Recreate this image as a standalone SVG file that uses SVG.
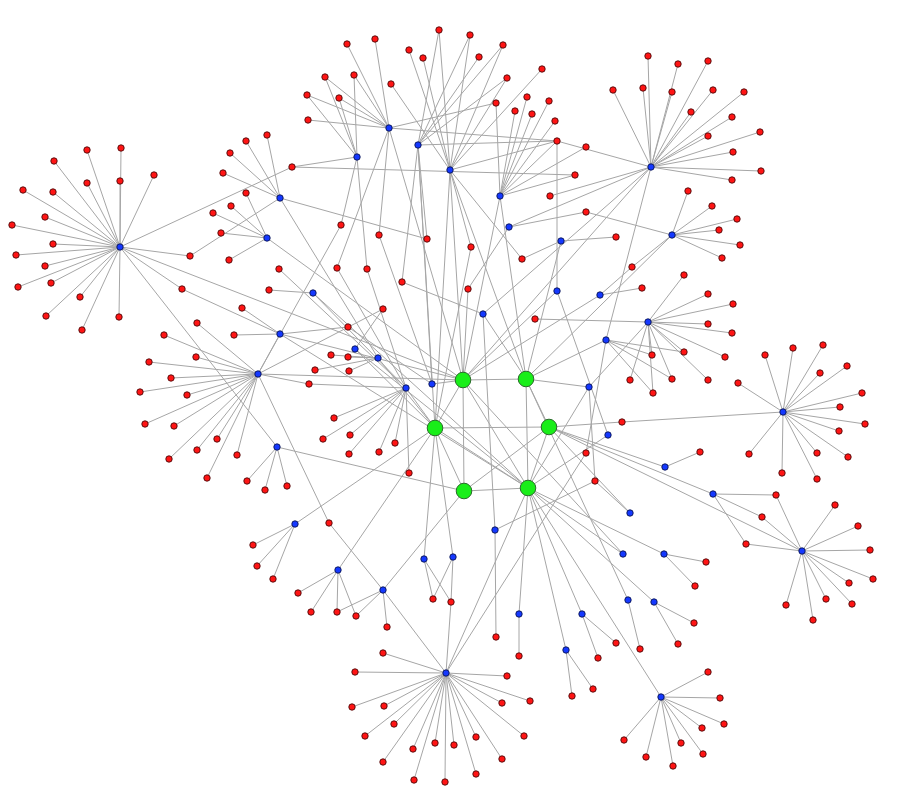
<svg xmlns="http://www.w3.org/2000/svg" width="900" height="810" viewBox="0 0 900 810">
<style>
.e line{stroke:#a6a6a6;stroke-width:1}
.r{fill:#ff1414;stroke:#4a0a0a;stroke-width:0.9}
.b{fill:#1438ff;stroke:#0a1450;stroke-width:0.9}
.g{fill:#19ee19;stroke:#2b6b2b;stroke-width:1}
</style>
<rect width="900" height="810" fill="#fff"/>
<g id="connectors" class="e">
<line x1="120" y1="247" x2="23" y2="190"/><line x1="120" y1="247" x2="54" y2="161"/><line x1="120" y1="247" x2="87" y2="150"/><line x1="120" y1="247" x2="121" y2="148"/><line x1="120" y1="247" x2="53" y2="192"/><line x1="120" y1="247" x2="87" y2="183"/><line x1="120" y1="247" x2="120" y2="181"/><line x1="120" y1="247" x2="154" y2="175"/><line x1="120" y1="247" x2="12" y2="225"/><line x1="120" y1="247" x2="45" y2="217"/><line x1="120" y1="247" x2="53" y2="244"/><line x1="120" y1="247" x2="16" y2="255"/><line x1="120" y1="247" x2="45" y2="266"/><line x1="120" y1="247" x2="18" y2="287"/><line x1="120" y1="247" x2="51" y2="283"/><line x1="120" y1="247" x2="80" y2="297"/><line x1="120" y1="247" x2="46" y2="316"/><line x1="120" y1="247" x2="82" y2="330"/><line x1="120" y1="247" x2="119" y2="317"/><line x1="120" y1="247" x2="190" y2="256"/><line x1="120" y1="247" x2="182" y2="289"/><line x1="120" y1="247" x2="292" y2="167"/><line x1="120" y1="247" x2="463" y2="380"/><line x1="120" y1="247" x2="277" y2="447"/>
<line x1="280" y1="198" x2="230" y2="153"/><line x1="280" y1="198" x2="246" y2="141"/><line x1="280" y1="198" x2="267" y2="135"/><line x1="280" y1="198" x2="223" y2="173"/><line x1="280" y1="198" x2="190" y2="256"/><line x1="280" y1="198" x2="378" y2="358"/><line x1="280" y1="198" x2="427" y2="239"/>
<line x1="267" y1="238" x2="231" y2="206"/><line x1="267" y1="238" x2="213" y2="213"/><line x1="267" y1="238" x2="221" y2="233"/><line x1="267" y1="238" x2="229" y2="260"/><line x1="267" y1="238" x2="246" y2="193"/><line x1="267" y1="238" x2="463" y2="380"/>
<line x1="279" y1="269" x2="406" y2="388"/>
<line x1="313" y1="293" x2="269" y2="290"/><line x1="313" y1="293" x2="406" y2="388"/><line x1="313" y1="293" x2="528" y2="488"/>
<line x1="280" y1="334" x2="242" y2="308"/><line x1="280" y1="334" x2="234" y2="335"/><line x1="280" y1="334" x2="182" y2="289"/><line x1="280" y1="334" x2="258" y2="374"/><line x1="280" y1="334" x2="348" y2="327"/><line x1="280" y1="334" x2="463" y2="380"/><line x1="280" y1="334" x2="528" y2="488"/>
<line x1="258" y1="374" x2="196" y2="357"/><line x1="258" y1="374" x2="197" y2="323"/><line x1="258" y1="374" x2="164" y2="335"/><line x1="258" y1="374" x2="149" y2="362"/><line x1="258" y1="374" x2="171" y2="378"/><line x1="258" y1="374" x2="140" y2="392"/><line x1="258" y1="374" x2="187" y2="395"/><line x1="258" y1="374" x2="145" y2="424"/><line x1="258" y1="374" x2="174" y2="426"/><line x1="258" y1="374" x2="217" y2="439"/><line x1="258" y1="374" x2="197" y2="450"/><line x1="258" y1="374" x2="169" y2="459"/><line x1="258" y1="374" x2="237" y2="455"/><line x1="258" y1="374" x2="207" y2="478"/><line x1="258" y1="374" x2="329" y2="523"/><line x1="258" y1="374" x2="463" y2="380"/><line x1="258" y1="374" x2="341" y2="225"/><line x1="258" y1="374" x2="383" y2="309"/><line x1="258" y1="374" x2="309" y2="384"/>
<line x1="277" y1="447" x2="247" y2="481"/><line x1="277" y1="447" x2="265" y2="490"/><line x1="277" y1="447" x2="287" y2="486"/><line x1="277" y1="447" x2="464" y2="491"/>
<line x1="295" y1="524" x2="253" y2="545"/><line x1="295" y1="524" x2="257" y2="566"/><line x1="295" y1="524" x2="273" y2="579"/><line x1="295" y1="524" x2="435" y2="428"/>
<line x1="355" y1="349" x2="383" y2="309"/><line x1="355" y1="349" x2="435" y2="428"/><line x1="355" y1="349" x2="528" y2="488"/>
<line x1="378" y1="358" x2="315" y2="370"/><line x1="378" y1="358" x2="331" y2="355"/><line x1="378" y1="358" x2="348" y2="357"/><line x1="378" y1="358" x2="349" y2="371"/><line x1="378" y1="358" x2="435" y2="428"/>
<line x1="406" y1="388" x2="334" y2="418"/><line x1="406" y1="388" x2="323" y2="439"/><line x1="406" y1="388" x2="350" y2="435"/><line x1="406" y1="388" x2="349" y2="454"/><line x1="406" y1="388" x2="379" y2="452"/><line x1="406" y1="388" x2="395" y2="443"/><line x1="406" y1="388" x2="409" y2="473"/><line x1="406" y1="388" x2="309" y2="384"/><line x1="406" y1="388" x2="337" y2="268"/><line x1="406" y1="388" x2="367" y2="269"/><line x1="406" y1="388" x2="435" y2="428"/>
<line x1="432" y1="384" x2="348" y2="327"/><line x1="432" y1="384" x2="463" y2="380"/><line x1="432" y1="384" x2="379" y2="235"/>
<line x1="483" y1="314" x2="402" y2="282"/><line x1="483" y1="314" x2="526" y2="379"/><line x1="483" y1="314" x2="495" y2="530"/>
<line x1="509" y1="227" x2="468" y2="289"/><line x1="509" y1="227" x2="586" y2="212"/><line x1="468" y1="289" x2="463" y2="380"/>
<line x1="561" y1="241" x2="616" y2="237"/><line x1="561" y1="241" x2="522" y2="259"/><line x1="561" y1="241" x2="526" y2="379"/>
<line x1="557" y1="291" x2="557" y2="141"/><line x1="557" y1="291" x2="463" y2="380"/>
<line x1="600" y1="295" x2="632" y2="267"/><line x1="600" y1="295" x2="642" y2="288"/><line x1="600" y1="295" x2="463" y2="380"/>
<line x1="589" y1="387" x2="526" y2="379"/><line x1="589" y1="387" x2="648" y2="322"/><line x1="589" y1="387" x2="595" y2="481"/><line x1="589" y1="387" x2="528" y2="488"/>
<line x1="606" y1="340" x2="652" y2="355"/><line x1="606" y1="340" x2="672" y2="379"/><line x1="606" y1="340" x2="653" y2="393"/><line x1="606" y1="340" x2="684" y2="352"/><line x1="606" y1="340" x2="526" y2="379"/><line x1="606" y1="340" x2="586" y2="453"/>
<line x1="648" y1="322" x2="684" y2="275"/><line x1="648" y1="322" x2="708" y2="294"/><line x1="648" y1="322" x2="733" y2="304"/><line x1="648" y1="322" x2="708" y2="324"/><line x1="648" y1="322" x2="732" y2="333"/><line x1="648" y1="322" x2="725" y2="357"/><line x1="648" y1="322" x2="684" y2="352"/><line x1="648" y1="322" x2="652" y2="355"/><line x1="648" y1="322" x2="672" y2="379"/><line x1="648" y1="322" x2="630" y2="380"/><line x1="648" y1="322" x2="708" y2="380"/><line x1="648" y1="322" x2="535" y2="319"/><line x1="648" y1="322" x2="653" y2="393"/>
<line x1="672" y1="235" x2="712" y2="206"/><line x1="672" y1="235" x2="737" y2="219"/><line x1="672" y1="235" x2="719" y2="230"/><line x1="672" y1="235" x2="740" y2="245"/><line x1="672" y1="235" x2="722" y2="258"/><line x1="672" y1="235" x2="688" y2="191"/><line x1="672" y1="235" x2="632" y2="267"/><line x1="672" y1="235" x2="526" y2="379"/><line x1="672" y1="235" x2="586" y2="212"/>
<line x1="651" y1="167" x2="648" y2="56"/><line x1="651" y1="167" x2="678" y2="64"/><line x1="651" y1="167" x2="708" y2="61"/><line x1="651" y1="167" x2="613" y2="90"/><line x1="651" y1="167" x2="643" y2="88"/><line x1="651" y1="167" x2="672" y2="92"/><line x1="651" y1="167" x2="713" y2="90"/><line x1="651" y1="167" x2="744" y2="92"/><line x1="651" y1="167" x2="691" y2="112"/><line x1="651" y1="167" x2="732" y2="117"/><line x1="651" y1="167" x2="708" y2="136"/><line x1="651" y1="167" x2="760" y2="132"/><line x1="651" y1="167" x2="733" y2="152"/><line x1="651" y1="167" x2="761" y2="171"/><line x1="651" y1="167" x2="732" y2="180"/><line x1="651" y1="167" x2="557" y2="141"/><line x1="651" y1="167" x2="550" y2="196"/><line x1="651" y1="167" x2="606" y2="340"/><line x1="651" y1="167" x2="463" y2="380"/><line x1="651" y1="167" x2="483" y2="314"/><line x1="651" y1="167" x2="509" y2="227"/>
<line x1="500" y1="196" x2="496" y2="103"/><line x1="500" y1="196" x2="527" y2="97"/><line x1="500" y1="196" x2="549" y2="101"/><line x1="500" y1="196" x2="515" y2="111"/><line x1="500" y1="196" x2="532" y2="114"/><line x1="500" y1="196" x2="555" y2="121"/><line x1="500" y1="196" x2="557" y2="141"/><line x1="500" y1="196" x2="586" y2="147"/><line x1="500" y1="196" x2="575" y2="175"/><line x1="500" y1="196" x2="463" y2="380"/><line x1="500" y1="196" x2="526" y2="379"/>
<line x1="450" y1="170" x2="409" y2="50"/><line x1="450" y1="170" x2="423" y2="58"/><line x1="450" y1="170" x2="439" y2="30"/><line x1="450" y1="170" x2="470" y2="35"/><line x1="450" y1="170" x2="542" y2="69"/><line x1="450" y1="170" x2="507" y2="78"/><line x1="450" y1="170" x2="503" y2="45"/><line x1="450" y1="170" x2="557" y2="141"/><line x1="450" y1="170" x2="471" y2="247"/><line x1="450" y1="170" x2="391" y2="84"/><line x1="450" y1="170" x2="463" y2="380"/><line x1="450" y1="170" x2="526" y2="379"/><line x1="450" y1="170" x2="435" y2="428"/><line x1="450" y1="170" x2="522" y2="259"/>
<line x1="471" y1="247" x2="435" y2="428"/>
<line x1="418" y1="145" x2="439" y2="30"/><line x1="418" y1="145" x2="470" y2="35"/><line x1="418" y1="145" x2="503" y2="45"/><line x1="418" y1="145" x2="479" y2="57"/><line x1="418" y1="145" x2="507" y2="78"/><line x1="418" y1="145" x2="557" y2="141"/><line x1="418" y1="145" x2="427" y2="239"/><line x1="418" y1="145" x2="402" y2="282"/><line x1="418" y1="145" x2="435" y2="428"/><line x1="418" y1="145" x2="432" y2="384"/>
<line x1="389" y1="128" x2="347" y2="44"/><line x1="389" y1="128" x2="375" y2="39"/><line x1="389" y1="128" x2="325" y2="77"/><line x1="389" y1="128" x2="354" y2="75"/><line x1="389" y1="128" x2="307" y2="95"/><line x1="389" y1="128" x2="339" y2="98"/><line x1="389" y1="128" x2="308" y2="120"/><line x1="389" y1="128" x2="496" y2="103"/><line x1="389" y1="128" x2="557" y2="141"/><line x1="389" y1="128" x2="379" y2="235"/><line x1="389" y1="128" x2="463" y2="380"/><line x1="389" y1="128" x2="337" y2="268"/>
<line x1="357" y1="157" x2="325" y2="77"/><line x1="357" y1="157" x2="354" y2="75"/><line x1="357" y1="157" x2="307" y2="95"/><line x1="357" y1="157" x2="339" y2="98"/><line x1="357" y1="157" x2="292" y2="167"/><line x1="357" y1="157" x2="341" y2="225"/><line x1="357" y1="157" x2="367" y2="269"/>
<line x1="292" y1="167" x2="575" y2="175"/>
<line x1="783" y1="412" x2="765" y2="355"/><line x1="783" y1="412" x2="793" y2="348"/><line x1="783" y1="412" x2="823" y2="345"/><line x1="783" y1="412" x2="820" y2="373"/><line x1="783" y1="412" x2="847" y2="366"/><line x1="783" y1="412" x2="862" y2="393"/><line x1="783" y1="412" x2="738" y2="383"/><line x1="783" y1="412" x2="840" y2="407"/><line x1="783" y1="412" x2="865" y2="424"/><line x1="783" y1="412" x2="839" y2="431"/><line x1="783" y1="412" x2="749" y2="454"/><line x1="783" y1="412" x2="817" y2="453"/><line x1="783" y1="412" x2="848" y2="457"/><line x1="783" y1="412" x2="782" y2="473"/><line x1="783" y1="412" x2="817" y2="479"/><line x1="783" y1="412" x2="622" y2="422"/>
<line x1="549" y1="427" x2="622" y2="422"/><line x1="549" y1="427" x2="665" y2="467"/><line x1="549" y1="427" x2="713" y2="494"/><line x1="549" y1="427" x2="802" y2="551"/><line x1="549" y1="427" x2="630" y2="513"/>
<line x1="665" y1="467" x2="700" y2="452"/>
<line x1="713" y1="494" x2="776" y2="495"/><line x1="713" y1="494" x2="762" y2="517"/><line x1="713" y1="494" x2="746" y2="544"/>
<line x1="802" y1="551" x2="776" y2="495"/><line x1="802" y1="551" x2="762" y2="517"/><line x1="802" y1="551" x2="746" y2="544"/><line x1="802" y1="551" x2="835" y2="505"/><line x1="802" y1="551" x2="858" y2="526"/><line x1="802" y1="551" x2="870" y2="550"/><line x1="802" y1="551" x2="873" y2="579"/><line x1="802" y1="551" x2="849" y2="583"/><line x1="802" y1="551" x2="826" y2="599"/><line x1="802" y1="551" x2="852" y2="604"/><line x1="802" y1="551" x2="786" y2="605"/><line x1="802" y1="551" x2="813" y2="620"/>
<line x1="608" y1="435" x2="528" y2="488"/><line x1="608" y1="435" x2="557" y2="291"/>
<line x1="630" y1="513" x2="595" y2="481"/>
<line x1="623" y1="554" x2="463" y2="380"/><line x1="623" y1="554" x2="528" y2="488"/>
<line x1="664" y1="554" x2="706" y2="562"/><line x1="664" y1="554" x2="695" y2="586"/><line x1="664" y1="554" x2="528" y2="488"/>
<line x1="628" y1="600" x2="640" y2="649"/><line x1="628" y1="600" x2="526" y2="379"/>
<line x1="654" y1="602" x2="678" y2="644"/><line x1="654" y1="602" x2="694" y2="623"/><line x1="654" y1="602" x2="528" y2="488"/>
<line x1="661" y1="697" x2="708" y2="672"/><line x1="661" y1="697" x2="720" y2="698"/><line x1="661" y1="697" x2="724" y2="724"/><line x1="661" y1="697" x2="702" y2="728"/><line x1="661" y1="697" x2="681" y2="743"/><line x1="661" y1="697" x2="703" y2="754"/><line x1="661" y1="697" x2="624" y2="740"/><line x1="661" y1="697" x2="646" y2="757"/><line x1="661" y1="697" x2="673" y2="766"/><line x1="661" y1="697" x2="528" y2="488"/>
<line x1="446" y1="673" x2="383" y2="653"/><line x1="446" y1="673" x2="355" y2="672"/><line x1="446" y1="673" x2="507" y2="676"/><line x1="446" y1="673" x2="352" y2="707"/><line x1="446" y1="673" x2="384" y2="706"/><line x1="446" y1="673" x2="530" y2="701"/><line x1="446" y1="673" x2="502" y2="703"/><line x1="446" y1="673" x2="394" y2="724"/><line x1="446" y1="673" x2="365" y2="736"/><line x1="446" y1="673" x2="524" y2="736"/><line x1="446" y1="673" x2="476" y2="737"/><line x1="446" y1="673" x2="435" y2="743"/><line x1="446" y1="673" x2="454" y2="745"/><line x1="446" y1="673" x2="413" y2="749"/><line x1="446" y1="673" x2="383" y2="762"/><line x1="446" y1="673" x2="502" y2="759"/><line x1="446" y1="673" x2="476" y2="774"/><line x1="446" y1="673" x2="414" y2="780"/><line x1="446" y1="673" x2="445" y2="782"/><line x1="446" y1="673" x2="528" y2="488"/><line x1="446" y1="673" x2="383" y2="590"/><line x1="446" y1="673" x2="586" y2="453"/><line x1="446" y1="673" x2="451" y2="602"/>
<line x1="338" y1="570" x2="298" y2="593"/><line x1="338" y1="570" x2="311" y2="612"/><line x1="338" y1="570" x2="337" y2="612"/><line x1="338" y1="570" x2="356" y2="616"/><line x1="338" y1="570" x2="435" y2="428"/>
<line x1="383" y1="590" x2="337" y2="612"/><line x1="383" y1="590" x2="356" y2="616"/><line x1="383" y1="590" x2="387" y2="627"/><line x1="383" y1="590" x2="329" y2="523"/><line x1="383" y1="590" x2="464" y2="491"/>
<line x1="424" y1="559" x2="433" y2="599"/><line x1="424" y1="559" x2="451" y2="602"/><line x1="424" y1="559" x2="435" y2="428"/>
<line x1="453" y1="557" x2="433" y2="599"/><line x1="453" y1="557" x2="451" y2="602"/><line x1="453" y1="557" x2="435" y2="428"/>
<line x1="495" y1="530" x2="595" y2="481"/><line x1="495" y1="530" x2="496" y2="637"/>
<line x1="519" y1="614" x2="519" y2="656"/><line x1="519" y1="614" x2="528" y2="488"/>
<line x1="582" y1="614" x2="616" y2="643"/><line x1="582" y1="614" x2="598" y2="658"/><line x1="582" y1="614" x2="528" y2="488"/>
<line x1="566" y1="650" x2="572" y2="696"/><line x1="566" y1="650" x2="593" y2="689"/><line x1="566" y1="650" x2="528" y2="488"/>
<line x1="463" y1="380" x2="526" y2="379"/><line x1="463" y1="380" x2="435" y2="428"/><line x1="463" y1="380" x2="464" y2="491"/><line x1="463" y1="380" x2="528" y2="488"/><line x1="526" y1="379" x2="549" y2="427"/><line x1="526" y1="379" x2="528" y2="488"/><line x1="435" y1="428" x2="549" y2="427"/><line x1="435" y1="428" x2="464" y2="491"/><line x1="435" y1="428" x2="528" y2="488"/><line x1="549" y1="427" x2="464" y2="491"/><line x1="549" y1="427" x2="528" y2="488"/><line x1="464" y1="491" x2="528" y2="488"/>
</g>
<g id="nodes">
<g id="n_r1"><circle class="r" cx="23" cy="190" r="3.2"/></g>
<g id="n_r2"><circle class="r" cx="54" cy="161" r="3.2"/></g>
<g id="n_r3"><circle class="r" cx="87" cy="150" r="3.2"/></g>
<g id="n_r4"><circle class="r" cx="121" cy="148" r="3.2"/></g>
<g id="n_r5"><circle class="r" cx="53" cy="192" r="3.2"/></g>
<g id="n_r6"><circle class="r" cx="87" cy="183" r="3.2"/></g>
<g id="n_r7"><circle class="r" cx="120" cy="181" r="3.2"/></g>
<g id="n_r8"><circle class="r" cx="154" cy="175" r="3.2"/></g>
<g id="n_r9"><circle class="r" cx="12" cy="225" r="3.2"/></g>
<g id="n_r10"><circle class="r" cx="45" cy="217" r="3.2"/></g>
<g id="n_r11"><circle class="r" cx="53" cy="244" r="3.2"/></g>
<g id="n_r12"><circle class="r" cx="16" cy="255" r="3.2"/></g>
<g id="n_r13"><circle class="r" cx="45" cy="266" r="3.2"/></g>
<g id="n_r14"><circle class="r" cx="18" cy="287" r="3.2"/></g>
<g id="n_r15"><circle class="r" cx="51" cy="283" r="3.2"/></g>
<g id="n_r16"><circle class="r" cx="80" cy="297" r="3.2"/></g>
<g id="n_r17"><circle class="r" cx="46" cy="316" r="3.2"/></g>
<g id="n_r18"><circle class="r" cx="82" cy="330" r="3.2"/></g>
<g id="n_r19"><circle class="r" cx="119" cy="317" r="3.2"/></g>
<g id="n_r20"><circle class="r" cx="190" cy="256" r="3.2"/></g>
<g id="n_r21"><circle class="r" cx="182" cy="289" r="3.2"/></g>
<g id="n_r22"><circle class="r" cx="292" cy="167" r="3.2"/></g>
<g id="n_r23"><circle class="r" cx="230" cy="153" r="3.2"/></g>
<g id="n_r24"><circle class="r" cx="246" cy="141" r="3.2"/></g>
<g id="n_r25"><circle class="r" cx="267" cy="135" r="3.2"/></g>
<g id="n_r26"><circle class="r" cx="223" cy="173" r="3.2"/></g>
<g id="n_r27"><circle class="r" cx="246" cy="193" r="3.2"/></g>
<g id="n_r28"><circle class="r" cx="231" cy="206" r="3.2"/></g>
<g id="n_r29"><circle class="r" cx="213" cy="213" r="3.2"/></g>
<g id="n_r30"><circle class="r" cx="221" cy="233" r="3.2"/></g>
<g id="n_r31"><circle class="r" cx="229" cy="260" r="3.2"/></g>
<g id="n_r32"><circle class="r" cx="279" cy="269" r="3.2"/></g>
<g id="n_r33"><circle class="r" cx="269" cy="290" r="3.2"/></g>
<g id="n_r34"><circle class="r" cx="242" cy="308" r="3.2"/></g>
<g id="n_r35"><circle class="r" cx="234" cy="335" r="3.2"/></g>
<g id="n_r36"><circle class="r" cx="196" cy="357" r="3.2"/></g>
<g id="n_r37"><circle class="r" cx="197" cy="323" r="3.2"/></g>
<g id="n_r38"><circle class="r" cx="164" cy="335" r="3.2"/></g>
<g id="n_r39"><circle class="r" cx="149" cy="362" r="3.2"/></g>
<g id="n_r40"><circle class="r" cx="171" cy="378" r="3.2"/></g>
<g id="n_r41"><circle class="r" cx="140" cy="392" r="3.2"/></g>
<g id="n_r42"><circle class="r" cx="187" cy="395" r="3.2"/></g>
<g id="n_r43"><circle class="r" cx="145" cy="424" r="3.2"/></g>
<g id="n_r44"><circle class="r" cx="174" cy="426" r="3.2"/></g>
<g id="n_r45"><circle class="r" cx="217" cy="439" r="3.2"/></g>
<g id="n_r46"><circle class="r" cx="197" cy="450" r="3.2"/></g>
<g id="n_r47"><circle class="r" cx="169" cy="459" r="3.2"/></g>
<g id="n_r48"><circle class="r" cx="237" cy="455" r="3.2"/></g>
<g id="n_r49"><circle class="r" cx="207" cy="478" r="3.2"/></g>
<g id="n_r50"><circle class="r" cx="247" cy="481" r="3.2"/></g>
<g id="n_r51"><circle class="r" cx="265" cy="490" r="3.2"/></g>
<g id="n_r52"><circle class="r" cx="287" cy="486" r="3.2"/></g>
<g id="n_r53"><circle class="r" cx="253" cy="545" r="3.2"/></g>
<g id="n_r54"><circle class="r" cx="257" cy="566" r="3.2"/></g>
<g id="n_r55"><circle class="r" cx="273" cy="579" r="3.2"/></g>
<g id="n_r56"><circle class="r" cx="298" cy="593" r="3.2"/></g>
<g id="n_r57"><circle class="r" cx="311" cy="612" r="3.2"/></g>
<g id="n_r58"><circle class="r" cx="337" cy="612" r="3.2"/></g>
<g id="n_r59"><circle class="r" cx="356" cy="616" r="3.2"/></g>
<g id="n_r60"><circle class="r" cx="387" cy="627" r="3.2"/></g>
<g id="n_r61"><circle class="r" cx="329" cy="523" r="3.2"/></g>
<g id="n_r62"><circle class="r" cx="347" cy="44" r="3.2"/></g>
<g id="n_r63"><circle class="r" cx="375" cy="39" r="3.2"/></g>
<g id="n_r64"><circle class="r" cx="439" cy="30" r="3.2"/></g>
<g id="n_r65"><circle class="r" cx="470" cy="35" r="3.2"/></g>
<g id="n_r66"><circle class="r" cx="503" cy="45" r="3.2"/></g>
<g id="n_r67"><circle class="r" cx="409" cy="50" r="3.2"/></g>
<g id="n_r68"><circle class="r" cx="423" cy="58" r="3.2"/></g>
<g id="n_r69"><circle class="r" cx="479" cy="57" r="3.2"/></g>
<g id="n_r70"><circle class="r" cx="542" cy="69" r="3.2"/></g>
<g id="n_r71"><circle class="r" cx="325" cy="77" r="3.2"/></g>
<g id="n_r72"><circle class="r" cx="354" cy="75" r="3.2"/></g>
<g id="n_r73"><circle class="r" cx="391" cy="84" r="3.2"/></g>
<g id="n_r74"><circle class="r" cx="507" cy="78" r="3.2"/></g>
<g id="n_r75"><circle class="r" cx="307" cy="95" r="3.2"/></g>
<g id="n_r76"><circle class="r" cx="339" cy="98" r="3.2"/></g>
<g id="n_r77"><circle class="r" cx="496" cy="103" r="3.2"/></g>
<g id="n_r78"><circle class="r" cx="527" cy="97" r="3.2"/></g>
<g id="n_r79"><circle class="r" cx="549" cy="101" r="3.2"/></g>
<g id="n_r80"><circle class="r" cx="515" cy="111" r="3.2"/></g>
<g id="n_r81"><circle class="r" cx="532" cy="114" r="3.2"/></g>
<g id="n_r82"><circle class="r" cx="555" cy="121" r="3.2"/></g>
<g id="n_r83"><circle class="r" cx="308" cy="120" r="3.2"/></g>
<g id="n_r84"><circle class="r" cx="557" cy="141" r="3.2"/></g>
<g id="n_r85"><circle class="r" cx="586" cy="147" r="3.2"/></g>
<g id="n_r86"><circle class="r" cx="575" cy="175" r="3.2"/></g>
<g id="n_r87"><circle class="r" cx="550" cy="196" r="3.2"/></g>
<g id="n_r88"><circle class="r" cx="341" cy="225" r="3.2"/></g>
<g id="n_r89"><circle class="r" cx="379" cy="235" r="3.2"/></g>
<g id="n_r90"><circle class="r" cx="427" cy="239" r="3.2"/></g>
<g id="n_r91"><circle class="r" cx="471" cy="247" r="3.2"/></g>
<g id="n_r92"><circle class="r" cx="586" cy="212" r="3.2"/></g>
<g id="n_r93"><circle class="r" cx="522" cy="259" r="3.2"/></g>
<g id="n_r94"><circle class="r" cx="337" cy="268" r="3.2"/></g>
<g id="n_r95"><circle class="r" cx="367" cy="269" r="3.2"/></g>
<g id="n_r96"><circle class="r" cx="402" cy="282" r="3.2"/></g>
<g id="n_r97"><circle class="r" cx="468" cy="289" r="3.2"/></g>
<g id="n_r98"><circle class="r" cx="383" cy="309" r="3.2"/></g>
<g id="n_r99"><circle class="r" cx="348" cy="327" r="3.2"/></g>
<g id="n_r100"><circle class="r" cx="535" cy="319" r="3.2"/></g>
<g id="n_r101"><circle class="r" cx="331" cy="355" r="3.2"/></g>
<g id="n_r102"><circle class="r" cx="348" cy="357" r="3.2"/></g>
<g id="n_r103"><circle class="r" cx="315" cy="370" r="3.2"/></g>
<g id="n_r104"><circle class="r" cx="349" cy="371" r="3.2"/></g>
<g id="n_r105"><circle class="r" cx="309" cy="384" r="3.2"/></g>
<g id="n_r106"><circle class="r" cx="648" cy="56" r="3.2"/></g>
<g id="n_r107"><circle class="r" cx="678" cy="64" r="3.2"/></g>
<g id="n_r108"><circle class="r" cx="708" cy="61" r="3.2"/></g>
<g id="n_r109"><circle class="r" cx="613" cy="90" r="3.2"/></g>
<g id="n_r110"><circle class="r" cx="643" cy="88" r="3.2"/></g>
<g id="n_r111"><circle class="r" cx="672" cy="92" r="3.2"/></g>
<g id="n_r112"><circle class="r" cx="713" cy="90" r="3.2"/></g>
<g id="n_r113"><circle class="r" cx="744" cy="92" r="3.2"/></g>
<g id="n_r114"><circle class="r" cx="691" cy="112" r="3.2"/></g>
<g id="n_r115"><circle class="r" cx="732" cy="117" r="3.2"/></g>
<g id="n_r116"><circle class="r" cx="708" cy="136" r="3.2"/></g>
<g id="n_r117"><circle class="r" cx="760" cy="132" r="3.2"/></g>
<g id="n_r118"><circle class="r" cx="733" cy="152" r="3.2"/></g>
<g id="n_r119"><circle class="r" cx="761" cy="171" r="3.2"/></g>
<g id="n_r120"><circle class="r" cx="732" cy="180" r="3.2"/></g>
<g id="n_r121"><circle class="r" cx="688" cy="191" r="3.2"/></g>
<g id="n_r122"><circle class="r" cx="712" cy="206" r="3.2"/></g>
<g id="n_r123"><circle class="r" cx="737" cy="219" r="3.2"/></g>
<g id="n_r124"><circle class="r" cx="719" cy="230" r="3.2"/></g>
<g id="n_r125"><circle class="r" cx="740" cy="245" r="3.2"/></g>
<g id="n_r126"><circle class="r" cx="722" cy="258" r="3.2"/></g>
<g id="n_r127"><circle class="r" cx="616" cy="237" r="3.2"/></g>
<g id="n_r128"><circle class="r" cx="632" cy="267" r="3.2"/></g>
<g id="n_r129"><circle class="r" cx="642" cy="288" r="3.2"/></g>
<g id="n_r130"><circle class="r" cx="684" cy="275" r="3.2"/></g>
<g id="n_r131"><circle class="r" cx="708" cy="294" r="3.2"/></g>
<g id="n_r132"><circle class="r" cx="733" cy="304" r="3.2"/></g>
<g id="n_r133"><circle class="r" cx="708" cy="324" r="3.2"/></g>
<g id="n_r134"><circle class="r" cx="732" cy="333" r="3.2"/></g>
<g id="n_r135"><circle class="r" cx="725" cy="357" r="3.2"/></g>
<g id="n_r136"><circle class="r" cx="684" cy="352" r="3.2"/></g>
<g id="n_r137"><circle class="r" cx="652" cy="355" r="3.2"/></g>
<g id="n_r138"><circle class="r" cx="672" cy="379" r="3.2"/></g>
<g id="n_r139"><circle class="r" cx="630" cy="380" r="3.2"/></g>
<g id="n_r140"><circle class="r" cx="653" cy="393" r="3.2"/></g>
<g id="n_r141"><circle class="r" cx="708" cy="380" r="3.2"/></g>
<g id="n_r142"><circle class="r" cx="765" cy="355" r="3.2"/></g>
<g id="n_r143"><circle class="r" cx="793" cy="348" r="3.2"/></g>
<g id="n_r144"><circle class="r" cx="823" cy="345" r="3.2"/></g>
<g id="n_r145"><circle class="r" cx="820" cy="373" r="3.2"/></g>
<g id="n_r146"><circle class="r" cx="847" cy="366" r="3.2"/></g>
<g id="n_r147"><circle class="r" cx="862" cy="393" r="3.2"/></g>
<g id="n_r148"><circle class="r" cx="738" cy="383" r="3.2"/></g>
<g id="n_r149"><circle class="r" cx="840" cy="407" r="3.2"/></g>
<g id="n_r150"><circle class="r" cx="865" cy="424" r="3.2"/></g>
<g id="n_r151"><circle class="r" cx="839" cy="431" r="3.2"/></g>
<g id="n_r152"><circle class="r" cx="749" cy="454" r="3.2"/></g>
<g id="n_r153"><circle class="r" cx="817" cy="453" r="3.2"/></g>
<g id="n_r154"><circle class="r" cx="848" cy="457" r="3.2"/></g>
<g id="n_r155"><circle class="r" cx="782" cy="473" r="3.2"/></g>
<g id="n_r156"><circle class="r" cx="817" cy="479" r="3.2"/></g>
<g id="n_r157"><circle class="r" cx="622" cy="422" r="3.2"/></g>
<g id="n_r158"><circle class="r" cx="700" cy="452" r="3.2"/></g>
<g id="n_r159"><circle class="r" cx="776" cy="495" r="3.2"/></g>
<g id="n_r160"><circle class="r" cx="762" cy="517" r="3.2"/></g>
<g id="n_r161"><circle class="r" cx="746" cy="544" r="3.2"/></g>
<g id="n_r162"><circle class="r" cx="835" cy="505" r="3.2"/></g>
<g id="n_r163"><circle class="r" cx="858" cy="526" r="3.2"/></g>
<g id="n_r164"><circle class="r" cx="870" cy="550" r="3.2"/></g>
<g id="n_r165"><circle class="r" cx="873" cy="579" r="3.2"/></g>
<g id="n_r166"><circle class="r" cx="849" cy="583" r="3.2"/></g>
<g id="n_r167"><circle class="r" cx="826" cy="599" r="3.2"/></g>
<g id="n_r168"><circle class="r" cx="852" cy="604" r="3.2"/></g>
<g id="n_r169"><circle class="r" cx="786" cy="605" r="3.2"/></g>
<g id="n_r170"><circle class="r" cx="813" cy="620" r="3.2"/></g>
<g id="n_r171"><circle class="r" cx="706" cy="562" r="3.2"/></g>
<g id="n_r172"><circle class="r" cx="695" cy="586" r="3.2"/></g>
<g id="n_r173"><circle class="r" cx="334" cy="418" r="3.2"/></g>
<g id="n_r174"><circle class="r" cx="323" cy="439" r="3.2"/></g>
<g id="n_r175"><circle class="r" cx="350" cy="435" r="3.2"/></g>
<g id="n_r176"><circle class="r" cx="349" cy="454" r="3.2"/></g>
<g id="n_r177"><circle class="r" cx="379" cy="452" r="3.2"/></g>
<g id="n_r178"><circle class="r" cx="395" cy="443" r="3.2"/></g>
<g id="n_r179"><circle class="r" cx="409" cy="473" r="3.2"/></g>
<g id="n_r180"><circle class="r" cx="586" cy="453" r="3.2"/></g>
<g id="n_r181"><circle class="r" cx="595" cy="481" r="3.2"/></g>
<g id="n_r182"><circle class="r" cx="433" cy="599" r="3.2"/></g>
<g id="n_r183"><circle class="r" cx="451" cy="602" r="3.2"/></g>
<g id="n_r184"><circle class="r" cx="496" cy="637" r="3.2"/></g>
<g id="n_r185"><circle class="r" cx="519" cy="656" r="3.2"/></g>
<g id="n_r186"><circle class="r" cx="598" cy="658" r="3.2"/></g>
<g id="n_r187"><circle class="r" cx="616" cy="643" r="3.2"/></g>
<g id="n_r188"><circle class="r" cx="572" cy="696" r="3.2"/></g>
<g id="n_r189"><circle class="r" cx="593" cy="689" r="3.2"/></g>
<g id="n_r190"><circle class="r" cx="640" cy="649" r="3.2"/></g>
<g id="n_r191"><circle class="r" cx="678" cy="644" r="3.2"/></g>
<g id="n_r192"><circle class="r" cx="694" cy="623" r="3.2"/></g>
<g id="n_r193"><circle class="r" cx="708" cy="672" r="3.2"/></g>
<g id="n_r194"><circle class="r" cx="720" cy="698" r="3.2"/></g>
<g id="n_r195"><circle class="r" cx="724" cy="724" r="3.2"/></g>
<g id="n_r196"><circle class="r" cx="702" cy="728" r="3.2"/></g>
<g id="n_r197"><circle class="r" cx="681" cy="743" r="3.2"/></g>
<g id="n_r198"><circle class="r" cx="703" cy="754" r="3.2"/></g>
<g id="n_r199"><circle class="r" cx="624" cy="740" r="3.2"/></g>
<g id="n_r200"><circle class="r" cx="646" cy="757" r="3.2"/></g>
<g id="n_r201"><circle class="r" cx="673" cy="766" r="3.2"/></g>
<g id="n_r202"><circle class="r" cx="383" cy="653" r="3.2"/></g>
<g id="n_r203"><circle class="r" cx="355" cy="672" r="3.2"/></g>
<g id="n_r204"><circle class="r" cx="507" cy="676" r="3.2"/></g>
<g id="n_r205"><circle class="r" cx="352" cy="707" r="3.2"/></g>
<g id="n_r206"><circle class="r" cx="384" cy="706" r="3.2"/></g>
<g id="n_r207"><circle class="r" cx="530" cy="701" r="3.2"/></g>
<g id="n_r208"><circle class="r" cx="502" cy="703" r="3.2"/></g>
<g id="n_r209"><circle class="r" cx="394" cy="724" r="3.2"/></g>
<g id="n_r210"><circle class="r" cx="365" cy="736" r="3.2"/></g>
<g id="n_r211"><circle class="r" cx="524" cy="736" r="3.2"/></g>
<g id="n_r212"><circle class="r" cx="476" cy="737" r="3.2"/></g>
<g id="n_r213"><circle class="r" cx="435" cy="743" r="3.2"/></g>
<g id="n_r214"><circle class="r" cx="454" cy="745" r="3.2"/></g>
<g id="n_r215"><circle class="r" cx="413" cy="749" r="3.2"/></g>
<g id="n_r216"><circle class="r" cx="383" cy="762" r="3.2"/></g>
<g id="n_r217"><circle class="r" cx="502" cy="759" r="3.2"/></g>
<g id="n_r218"><circle class="r" cx="476" cy="774" r="3.2"/></g>
<g id="n_r219"><circle class="r" cx="414" cy="780" r="3.2"/></g>
<g id="n_r220"><circle class="r" cx="445" cy="782" r="3.2"/></g>
<g id="n_h1"><circle class="b" cx="120" cy="247" r="3.2"/></g>
<g id="n_h2"><circle class="b" cx="280" cy="198" r="3.2"/></g>
<g id="n_h3"><circle class="b" cx="267" cy="238" r="3.2"/></g>
<g id="n_h4"><circle class="b" cx="313" cy="293" r="3.2"/></g>
<g id="n_h5"><circle class="b" cx="280" cy="334" r="3.2"/></g>
<g id="n_h6"><circle class="b" cx="258" cy="374" r="3.2"/></g>
<g id="n_h7"><circle class="b" cx="277" cy="447" r="3.2"/></g>
<g id="n_h8"><circle class="b" cx="295" cy="524" r="3.2"/></g>
<g id="n_h9"><circle class="b" cx="355" cy="349" r="3.2"/></g>
<g id="n_h10"><circle class="b" cx="378" cy="358" r="3.2"/></g>
<g id="n_h11"><circle class="b" cx="406" cy="388" r="3.2"/></g>
<g id="n_h12"><circle class="b" cx="432" cy="384" r="3.2"/></g>
<g id="n_h13"><circle class="b" cx="483" cy="314" r="3.2"/></g>
<g id="n_h14"><circle class="b" cx="509" cy="227" r="3.2"/></g>
<g id="n_h15"><circle class="b" cx="561" cy="241" r="3.2"/></g>
<g id="n_h16"><circle class="b" cx="557" cy="291" r="3.2"/></g>
<g id="n_h17"><circle class="b" cx="600" cy="295" r="3.2"/></g>
<g id="n_h18"><circle class="b" cx="589" cy="387" r="3.2"/></g>
<g id="n_h19"><circle class="b" cx="606" cy="340" r="3.2"/></g>
<g id="n_h20"><circle class="b" cx="648" cy="322" r="3.2"/></g>
<g id="n_h21"><circle class="b" cx="672" cy="235" r="3.2"/></g>
<g id="n_h22"><circle class="b" cx="651" cy="167" r="3.2"/></g>
<g id="n_h23"><circle class="b" cx="500" cy="196" r="3.2"/></g>
<g id="n_h24"><circle class="b" cx="450" cy="170" r="3.2"/></g>
<g id="n_h25"><circle class="b" cx="418" cy="145" r="3.2"/></g>
<g id="n_h26"><circle class="b" cx="389" cy="128" r="3.2"/></g>
<g id="n_h27"><circle class="b" cx="357" cy="157" r="3.2"/></g>
<g id="n_h28"><circle class="b" cx="783" cy="412" r="3.2"/></g>
<g id="n_h29"><circle class="b" cx="665" cy="467" r="3.2"/></g>
<g id="n_h30"><circle class="b" cx="713" cy="494" r="3.2"/></g>
<g id="n_h31"><circle class="b" cx="802" cy="551" r="3.2"/></g>
<g id="n_h32"><circle class="b" cx="608" cy="435" r="3.2"/></g>
<g id="n_h33"><circle class="b" cx="630" cy="513" r="3.2"/></g>
<g id="n_h34"><circle class="b" cx="623" cy="554" r="3.2"/></g>
<g id="n_h35"><circle class="b" cx="664" cy="554" r="3.2"/></g>
<g id="n_h36"><circle class="b" cx="628" cy="600" r="3.2"/></g>
<g id="n_h37"><circle class="b" cx="654" cy="602" r="3.2"/></g>
<g id="n_h38"><circle class="b" cx="661" cy="697" r="3.2"/></g>
<g id="n_h39"><circle class="b" cx="446" cy="673" r="3.2"/></g>
<g id="n_h40"><circle class="b" cx="338" cy="570" r="3.2"/></g>
<g id="n_h41"><circle class="b" cx="383" cy="590" r="3.2"/></g>
<g id="n_h42"><circle class="b" cx="424" cy="559" r="3.2"/></g>
<g id="n_h43"><circle class="b" cx="453" cy="557" r="3.2"/></g>
<g id="n_h44"><circle class="b" cx="495" cy="530" r="3.2"/></g>
<g id="n_h45"><circle class="b" cx="519" cy="614" r="3.2"/></g>
<g id="n_h46"><circle class="b" cx="582" cy="614" r="3.2"/></g>
<g id="n_h47"><circle class="b" cx="566" cy="650" r="3.2"/></g>
<g id="n_g1"><circle class="g" cx="463" cy="380" r="7.8"/></g>
<g id="n_g2"><circle class="g" cx="526" cy="379" r="7.8"/></g>
<g id="n_g3"><circle class="g" cx="435" cy="428" r="7.8"/></g>
<g id="n_g4"><circle class="g" cx="549" cy="427" r="7.8"/></g>
<g id="n_g5"><circle class="g" cx="464" cy="491" r="7.8"/></g>
<g id="n_g6"><circle class="g" cx="528" cy="488" r="7.8"/></g>
</g>
</svg>
